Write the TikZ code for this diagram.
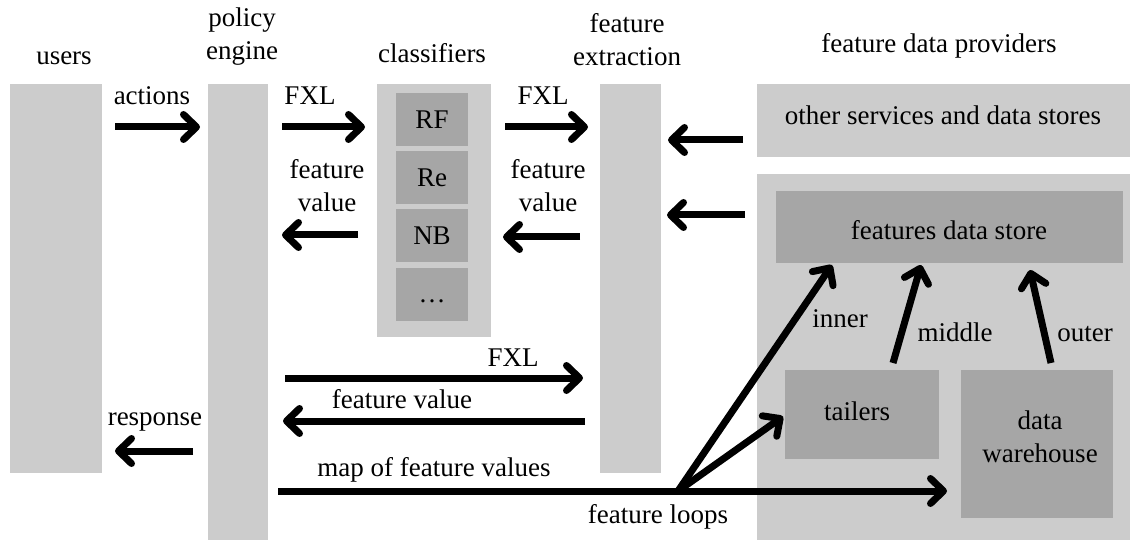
\documentclass[tikz,border=0pt]{standalone}
\usepackage{fontspec}
\setmainfont{Liberation Serif}
\usetikzlibrary{arrows.meta}
\definecolor{lg}{RGB}{204,204,204}
\definecolor{dg}{RGB}{166,166,166}
\begin{document}
\begin{tikzpicture}[x=1pt,y=-1pt,
  lbl/.style={font=\fontsize{27}{33}\selectfont, inner sep=0pt, anchor=base, align=center},
  lbox/.style={fill=lg, draw=none, inner sep=0pt, outer sep=0pt, anchor=north west},
  dbox/.style={fill=dg, draw=none, inner sep=0pt, outer sep=0pt, anchor=north west},
  arr/.style={line width=7pt, -{Straight Barb[length=13pt,width=25pt,round]}},
  shaft/.style={line width=7pt}
  ]
\useasboundingbox (0,0) rectangle (1130,540);
% boxes
\node[lbox, minimum width=92pt, minimum height=389pt] (users) at (10,84) {};
\node[lbox, minimum width=60pt, minimum height=456pt] (policy) at (208,84) {};
\node[lbox, minimum width=114pt, minimum height=253pt] (classif) at (377,84) {};
\node[dbox, minimum width=72pt, minimum height=53pt] (rf) at (396,93) {};
\node[dbox, minimum width=72pt, minimum height=53pt] (re) at (396,151) {};
\node[dbox, minimum width=72pt, minimum height=53pt] (nb) at (396,209) {};
\node[dbox, minimum width=72pt, minimum height=53pt] (dots) at (396,268) {};
\node[lbox, minimum width=61pt, minimum height=389pt] (fe) at (600,84) {};
\node[lbox, minimum width=373pt, minimum height=73pt] (other) at (757,84) {};
\node[lbox, minimum width=373pt, minimum height=366pt] (big) at (757,174) {};
\node[dbox, minimum width=347pt, minimum height=72pt] (fds) at (776,191) {};
\node[dbox, minimum width=154pt, minimum height=89pt] (tail) at (785,370) {};
\node[dbox, minimum width=152pt, minimum height=148pt] (dw) at (961,370) {};
% titles (base anchor = baseline of last line)
\node[lbl] (t-users) at (64,65) {users};
\node[lbl] (t-policy) at (242,60) {policy\\engine};
\node[lbl] (t-classif) at (432,63) {classifiers};
\node[lbl] (t-fe) at (627,66) {feature\\extraction};
\node[lbl] (t-prov) at (939,53) {feature data providers};
% box texts
\node[lbl] (l-other) at (943,125) {other services and data stores};
\node[lbl] (l-rf) at (432,129) {RF};
\node[lbl] (l-re) at (432,187) {Re};
\node[lbl] (l-nb) at (432,245) {NB};
\node[lbl] (l-dots) at (432,302) {\ldots};
\node[lbl] (l-fds) at (949,240) {features data store};
\node[lbl] (l-tail) at (857,420) {tailers};
\node[lbl] (l-dw) at (1040,462) {data\\warehouse};
% arrow labels
\node[lbl] (l-actions) at (152,105) {actions};
\node[lbl] (l-fxl1) at (310,105) {FXL};
\node[lbl] (l-fxl2) at (543,105) {FXL};
\node[lbl] (l-fv1) at (327,212) {feature\\value};
\node[lbl] (l-fv2) at (548,212) {feature\\value};
\node[lbl] (l-fxl3) at (513,366) {FXL};
\node[lbl] (l-fv3) at (402,408) {feature value};
\node[lbl] (l-map) at (434,476) {map of feature values};
\node[lbl] (l-resp) at (155,425) {response};
\node[lbl] (l-loops) at (658,523) {feature loops};
\node[lbl] (l-inner) at (840,327) {inner};
\node[lbl] (l-middle) at (955,341) {middle};
\node[lbl] (l-outer) at (1085,341) {outer};
% arrows
\draw[arr] ([xshift=13pt]users.east |- 0,127) -- ([xshift=-8pt]policy.west |- 0,127);
\draw[arr] ([xshift=14pt]policy.east |- 0,127) -- ([xshift=-12pt]classif.west |- 0,127);
\draw[arr] ([xshift=14pt]classif.east |- 0,127) -- ([xshift=-12pt]fe.west |- 0,127);
\draw[arr] ([xshift=-19pt]classif.west |- 0,235) -- ([xshift=14pt]policy.east |- 0,235);
\draw[arr] ([xshift=-20pt]fe.west |- 0,237) -- ([xshift=12pt]classif.east |- 0,237);
\draw[arr] ([xshift=-14pt]other.west |- 0,140) -- ([xshift=7pt]fe.east |- 0,140);
\draw[arr] ([xshift=-12pt]big.west |- 0,215) -- ([xshift=6pt]fe.east |- 0,215);
\draw[arr] ([xshift=17pt]policy.east |- 0,378) -- ([xshift=-17pt]fe.west |- 0,378);
\draw[arr] ([xshift=-15pt]fe.west |- 0,421) -- ([xshift=15pt]policy.east |- 0,421);
\draw[arr] ([xshift=-15pt]policy.west |- 0,451) -- ([xshift=13pt]users.east |- 0,451);
\coordinate (loop) at (678,491);
\draw[shaft] ([xshift=10pt]policy.east |- loop) -- (loop);
\draw[arr] (loop) -- ([xshift=-14pt]dw.west |- loop);
\draw[arr] (loop) -- ([xshift=-2pt,yshift=-2pt]tail.west);
\draw[arr] (loop) -- ([xshift=56pt,yshift=-2pt]fds.south west);
\draw[arr] ([xshift=108pt,yshift=7pt]tail.north west) -- ([xshift=145pt,yshift=-2pt]fds.south west);
\draw[arr] ([xshift=90pt,yshift=7pt]dw.north west) -- ([xshift=254pt,yshift=-7pt]fds.south west);
\end{tikzpicture}
\end{document}
